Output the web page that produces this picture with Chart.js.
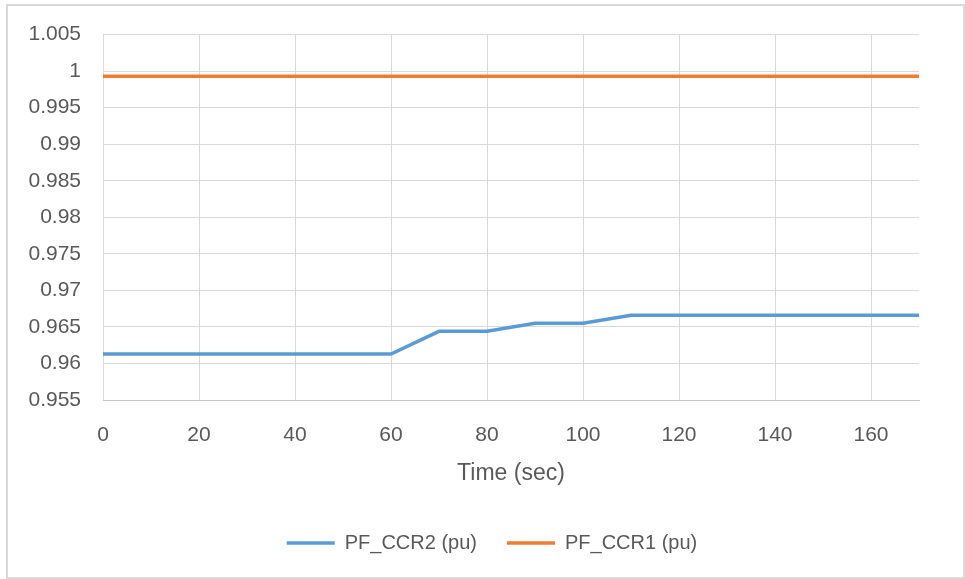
<!DOCTYPE html>
<html>
<head>
<meta charset="utf-8">
<script src="https://cdn.jsdelivr.net/npm/chart.js@4/dist/chart.umd.min.js"></script>
<style>
  html, body { margin: 0; padding: 0; background: #ffffff; }
  #frame { position: absolute; left: 6px; top: 4px; width: 955px; height: 571px; border: 2px solid #d9d9d9; box-sizing: content-box; }
  #wrap { position: absolute; left: 0; top: 0; width: 965px; height: 579px; }
</style>
</head>
<body>
<div id="frame"></div>
<div id="wrap"><canvas id="c" width="965" height="579"></canvas></div>
<script>
// Time axis (seconds)
const timeSec = [0, 10, 20, 30, 40, 50, 60, 70, 80, 90, 100, 110, 120, 130, 140, 150, 160, 170];
// Power factor of each feeder (per unit)
const pfCCR2 = [0.9613, 0.9613, 0.9613, 0.9613, 0.9613, 0.9613, 0.9613, 0.9644, 0.9644, 0.9655, 0.9655, 0.9666, 0.9666, 0.9666, 0.9666, 0.9666, 0.9666, 0.9666];
const pfCCR1 = [0.9993, 0.9993, 0.9993, 0.9993, 0.9993, 0.9993, 0.9993, 0.9993, 0.9993, 0.9993, 0.9993, 0.9993, 0.9993, 0.9993, 0.9993, 0.9993, 0.9993, 0.9993];
// Axis ticks
const xTicks = [0, 20, 40, 60, 80, 100, 120, 140, 160];
const yTicks = [0.955, 0.96, 0.965, 0.97, 0.975, 0.98, 0.985, 0.99, 0.995, 1, 1.005];

const FONT = "'Liberation Sans', Arial, sans-serif";
const TEXT = '#595959';
const GRID = '#d9d9d9';

const toXY = (vals) => timeSec.map((t, i) => ({ x: t, y: vals[i] }));

// Centre the legend under the plot area rather than the whole canvas
const legendUnderPlot = {
  id: 'legendUnderPlot',
  afterLayout(chart) {
    const lg = chart.legend;
    if (!lg) return;
    const shift = (chart.chartArea.left + chart.chartArea.right) / 2 - (lg.left + lg.right) / 2 - 19;
    lg.left += shift;
    lg.right += shift;
  }
};

new Chart(document.getElementById('c'), {
  type: 'line',
  data: {
    datasets: [
      { label: 'PF_CCR2 (pu)', data: toXY(pfCCR2), borderColor: '#5b9bd5', backgroundColor: '#5b9bd5', borderWidth: 3.5, pointRadius: 0, tension: 0 },
      { label: 'PF_CCR1 (pu)', data: toXY(pfCCR1), borderColor: '#ed7d31', backgroundColor: '#ed7d31', borderWidth: 3.5, pointRadius: 0, tension: 0 }
    ]
  },
  plugins: [legendUnderPlot],
  options: {
    responsive: false,
    animation: false,
    devicePixelRatio: 1,
    layout: { padding: { left: 0, top: 34, right: 46, bottom: 16 } },
    plugins: {
      tooltip: { enabled: false },
      legend: {
        position: 'bottom',
        labels: {
          usePointStyle: true,
          pointStyle: 'line',
          pointStyleWidth: 48,
          color: TEXT,
          font: { family: FONT, size: 20 },
          padding: 30
        }
      }
    },
    scales: {
      x: {
        type: 'linear',
        min: 0,
        max: 170,
        afterBuildTicks: (s) => { s.ticks = xTicks.map(v => ({ value: v })); },
        afterFit: (s) => { s.height = 103; },
        grid: { color: GRID, lineWidth: 1, drawTicks: false },
        border: { color: '#c8c8c8', width: 1 },
        ticks: { color: TEXT, font: { family: FONT, size: 21 }, padding: 23, maxRotation: 0 },
        title: { display: true, text: 'Time (sec)', color: TEXT, font: { family: FONT, size: 23 }, padding: { top: 0, bottom: 16 } }
      },
      y: {
        min: 0.955,
        max: 1.005,
        afterBuildTicks: (s) => { s.ticks = yTicks.map(v => ({ value: v })); },
        afterFit: (s) => { s.width = 103; },
        grid: { color: GRID, lineWidth: 1, drawTicks: false },
        border: { display: false },
        ticks: { color: TEXT, font: { family: FONT, size: 21 }, padding: 22, callback: (v) => String(Number(v.toFixed(3))) }
      }
    }
  }
});
</script>
</body>
</html>
